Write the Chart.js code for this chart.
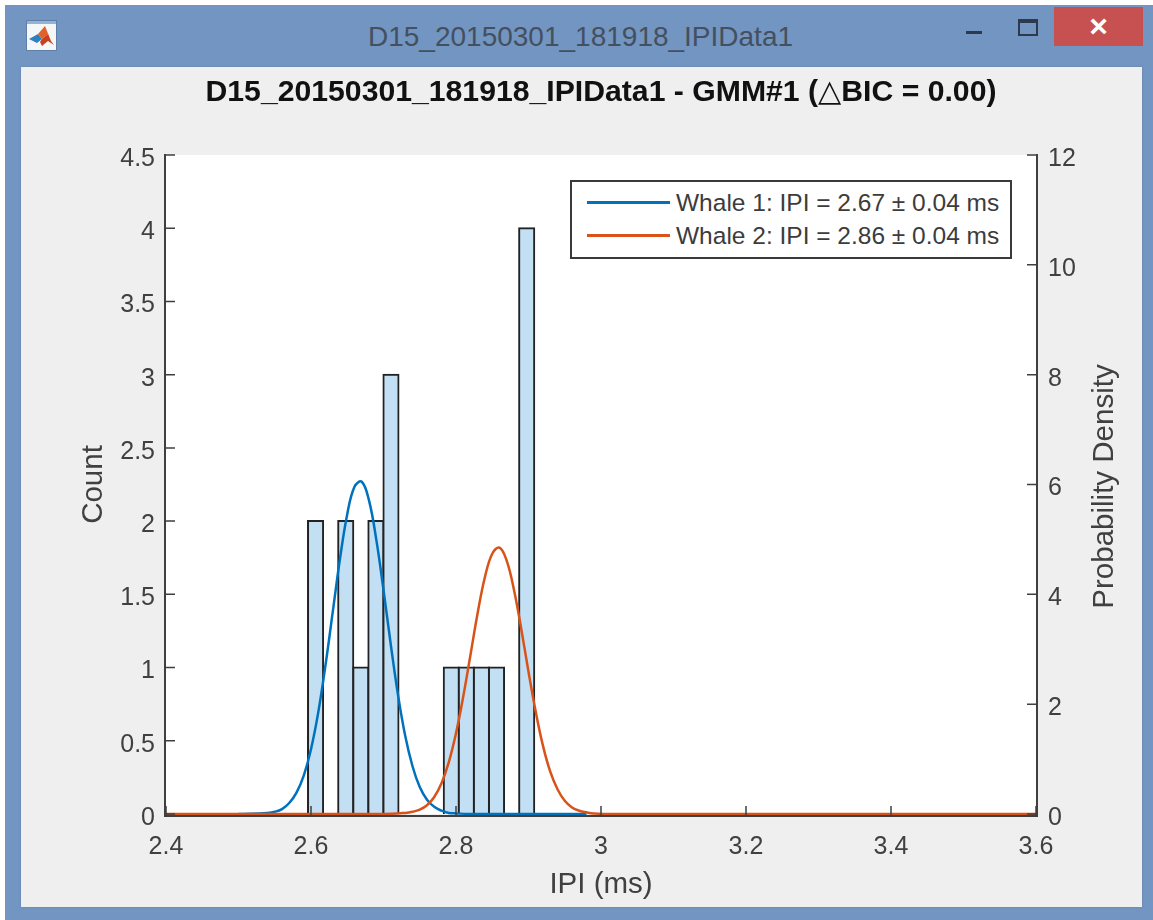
<!DOCTYPE html>
<html>
<head>
<meta charset="utf-8">
<title>D15_20150301_181918_IPIData1</title>
<script src="https://cdn.jsdelivr.net/npm/chart.js@4"></script>
<style>
  html, body { margin: 0; padding: 0; background: #fff; width: 1153px; height: 920px; overflow: hidden; }
  body { position: relative; font-family: "Liberation Sans", "DejaVu Sans", sans-serif; }
  #frame { position: absolute; left: 5px; top: 5px; width: 1148px; height: 915px; background: #7395c1; }
  #panel { position: absolute; left: 21px; top: 67px; width: 1121px; height: 840px; background: #efefef; box-shadow: 0 0 2px #5f7fa8; }
  #winTitle { position: absolute; left: 368px; top: 21px; font-size: 28px; color: #44505f; white-space: nowrap; }
  #closeBtn { position: absolute; left: 1054px; top: 7px; width: 89px; height: 39px; background: #c75050; color: #fff; font-size: 32px; font-weight: bold; line-height: 38px; text-align: center; }
  #minBtn { position: absolute; left: 966px; top: 31px; width: 16px; height: 3px; background: #2c3a4c; }
  #maxBtn { position: absolute; left: 1018px; top: 19px; width: 16px; height: 11px; border: 2px solid #2c3a4c; border-top-width: 4px; }
  #icon { position: absolute; left: 26px; top: 20px; }
  #chartCanvas { position: absolute; left: 0; top: 0; }
  #legendBox { position: absolute; left: 570px; top: 180px; width: 438px; height: 75px; background: #fff; border: 2px solid #3a3a3a; }
  .legendRow { position: absolute; left: 0; height: 33px; width: 100%; font-size: 24.5px; line-height: 33px; color: #3c3c3c; white-space: nowrap; }
  .legendRow i { position: absolute; left: 15px; top: 15px; width: 83px; height: 3px; }
  .legendRow span { position: absolute; left: 104px; }
</style>
</head>
<body>
<div id="frame"></div>
<div id="panel"></div>
<svg id="icon" width="31" height="31" viewBox="0 0 31 31">
  <rect x="0.5" y="0.5" width="30" height="30" fill="#f4f6f8" stroke="#5f7fa8"/>
  <rect x="1" y="1" width="29" height="3" fill="#8fb4d8"/>
  <polygon points="3,19 12,14 16,19 11,23" fill="#2f7fc0"/>
  <polygon points="12,14 19,6 22,14 16,19" fill="#e0622a"/>
  <polygon points="19,6 25,21 28,25 22,21 16,26 14,22 16,19 22,14" fill="#c8401c"/>
</svg>
<div id="winTitle">D15_20150301_181918_IPIData1</div>
<div id="minBtn"></div>
<div id="maxBtn"></div>
<div id="closeBtn">×</div>
<canvas id="chartCanvas" width="1153" height="920"></canvas>
<div id="legendBox"></div>

<script>
const chartTitle = "D15_20150301_181918_IPIData1 - GMM#1 (△BIC = 0.00)";
const xLabel = "IPI (ms)";
const leftLabel = "Count";
const rightLabel = "Probability Density";

const xTicks = [2.4, 2.6, 2.8, 3, 3.2, 3.4, 3.6];
const countTicks = [0, 0.5, 1, 1.5, 2, 2.5, 3, 3.5, 4, 4.5];
const densityTicks = [0, 2, 4, 6, 8, 10, 12];

// histogram bins (centre, count)
const binCenters = [2.6063, 2.6479, 2.6687, 2.6895, 2.7103, 2.7935, 2.8143, 2.8351, 2.8559, 2.8975];
const binCounts = [2, 2, 1, 2, 3, 1, 1, 1, 1, 4];

const whale1Label = "Whale 1: IPI = 2.67 ± 0.04 ms";
const whale1X = [2.5, 2.54, 2.55, 2.56, 2.57, 2.58, 2.59, 2.6, 2.61, 2.62, 2.63, 2.64, 2.65, 2.66, 2.67, 2.68, 2.69, 2.7, 2.71, 2.72, 2.73, 2.74, 2.75, 2.76, 2.77, 2.78, 2.79, 2.8, 2.82, 2.98];
const whale1Y = [0, 0.02, 0.04, 0.09, 0.2, 0.39, 0.7, 1.18, 1.85, 2.71, 3.68, 4.65, 5.46, 5.96, 6.05, 5.71, 5, 4.08, 3.09, 2.17, 1.42, 0.87, 0.49, 0.26, 0.13, 0.06, 0.02, 0.01, 0, 0];

const whale2Label = "Whale 2: IPI = 2.86 ± 0.04 ms";
const whale2X = [2.4, 2.7, 2.73, 2.74, 2.75, 2.76, 2.77, 2.78, 2.79, 2.8, 2.81, 2.82, 2.83, 2.84, 2.85, 2.86, 2.87, 2.88, 2.89, 2.9, 2.91, 2.92, 2.93, 2.94, 2.95, 2.96, 2.97, 2.98, 2.99, 3.02, 3.6];
const whale2Y = [0, 0, 0.02, 0.04, 0.08, 0.16, 0.31, 0.56, 0.94, 1.47, 2.14, 2.9, 3.67, 4.32, 4.74, 4.85, 4.61, 4.08, 3.37, 2.59, 1.86, 1.24, 0.77, 0.45, 0.24, 0.12, 0.06, 0.03, 0.01, 0, 0];

const axisColor = "#3f3f3f";
const textColor = "#404040";
const fontFamily = '"Liberation Sans", "DejaVu Sans", sans-serif';

function toPoints(xs, ys) {
  return xs.map((x, i) => ({ x: x, y: ys[i] }));
}

// matlab style box: white plot area, inward ticks, no top line
const matlabAxes = {
  id: "matlabAxes",
  beforeDatasetsDraw(chart) {
    const a = chart.chartArea;
    const ctx = chart.ctx;
    ctx.save();
    ctx.fillStyle = "#fff";
    ctx.fillRect(a.left, a.top, a.right - a.left, a.bottom - a.top);
    ctx.restore();
  },
  afterDraw(chart) {
    const a = chart.chartArea;
    const ctx = chart.ctx;
    const sx = chart.scales.x, sl = chart.scales.y, sr = chart.scales.y2;
    ctx.save();
    ctx.strokeStyle = axisColor;
    ctx.lineWidth = 2;
    ctx.beginPath();
    ctx.moveTo(a.left - 1, a.top - 1);
    ctx.lineTo(a.left - 1, a.bottom + 2);
    ctx.lineTo(a.right + 1, a.bottom + 2);
    ctx.lineTo(a.right + 1, a.top - 1);
    ctx.stroke();
    ctx.lineWidth = 1.5;
    ctx.beginPath();
    xTicks.forEach(v => {
      const x = sx.getPixelForValue(v);
      ctx.moveTo(x, a.bottom + 1);
      ctx.lineTo(x, a.bottom - 8);
    });
    countTicks.forEach(v => {
      const y = sl.getPixelForValue(v);
      ctx.moveTo(a.left, y);
      ctx.lineTo(a.left + 9, y);
    });
    densityTicks.forEach(v => {
      const y = sr.getPixelForValue(v);
      ctx.moveTo(a.right, y);
      ctx.lineTo(a.right - 9, y);
    });
    ctx.stroke();

    // right axis title reads bottom to top, chart.js would flip it
    ctx.translate(1105, (a.top + a.bottom) / 2 + 2);
    ctx.rotate(-Math.PI / 2);
    ctx.fillStyle = textColor;
    ctx.font = "29.5px " + fontFamily;
    ctx.textAlign = "center";
    ctx.textBaseline = "middle";
    ctx.fillText(rightLabel, 0, 0);
    ctx.restore();
  }
};

const chart = new Chart(document.getElementById("chartCanvas").getContext("2d"), {
  type: "bar",
  plugins: [matlabAxes],
  data: {
    datasets: [
      {
        type: "line",
        label: whale2Label,
        data: toPoints(whale2X, whale2Y),
        yAxisID: "y2",
        borderColor: "#d95319",
        borderWidth: 2.5,
        pointRadius: 0,
        tension: 0.4,
        clip: false,
        order: 1
      },
      {
        type: "line",
        label: whale1Label,
        data: toPoints(whale1X, whale1Y),
        yAxisID: "y2",
        borderColor: "#0072bd",
        borderWidth: 2.5,
        pointRadius: 0,
        tension: 0.4,
        clip: false,
        order: 2
      },
      {
        label: "Count",
        data: toPoints(binCenters, binCounts),
        yAxisID: "y",
        backgroundColor: "#c2dff3",
        borderColor: "#222",
        borderWidth: 2,
        inflateAmount: 1,
        barPercentage: 1,
        categoryPercentage: 1,
        order: 3
      }
    ]
  },
  options: {
    responsive: false,
    animation: false,
    layout: { padding: 0 },
    plugins: {
      legend: { display: false },
      tooltip: { enabled: false },
      title: {
        display: true,
        text: chartTitle,
        fullSize: false,
        color: "#111",
        font: { family: fontFamily, size: 30.2, weight: "bold", lineHeight: 1.2 },
        padding: { top: 75, bottom: 43.76 }
      }
    },
    scales: {
      x: {
        type: "linear",
        min: 2.4,
        max: 3.6,
        offset: false,
        grid: { display: false },
        border: { display: false },
        afterBuildTicks: s => { s.ticks = xTicks.map(v => ({ value: v })); },
        afterFit: s => { s.height = 106; },
        ticks: {
          autoSkip: false,
          maxRotation: 0,
          padding: 10,
          color: textColor,
          font: { family: fontFamily, size: 25 },
          callback: v => String(v)
        },
        title: {
          display: true,
          text: xLabel,
          color: textColor,
          font: { family: fontFamily, size: 29.5, lineHeight: 1.2 },
          padding: { top: 0, bottom: 17 }
        }
      },
      y: {
        position: "left",
        min: 0,
        max: 4.5,
        grid: { display: false },
        border: { display: false },
        afterBuildTicks: s => { s.ticks = countTicks.map(v => ({ value: v })); },
        afterFit: s => { s.width = 166; },
        ticks: {
          autoSkip: false,
          padding: 3,
          labelOffset: 4,
          color: textColor,
          font: { family: fontFamily, size: 25 },
          callback: v => String(v)
        },
        title: {
          display: true,
          text: leftLabel,
          color: textColor,
          font: { family: fontFamily, size: 29.5, lineHeight: 1.2 },
          padding: { top: 76, bottom: 0 }
        }
      },
      y2: {
        position: "right",
        min: 0,
        max: 12,
        grid: { display: false },
        border: { display: false },
        afterBuildTicks: s => { s.ticks = densityTicks.map(v => ({ value: v })); },
        afterFit: s => { s.width = 117; },
        ticks: {
          autoSkip: false,
          padding: 4,
          labelOffset: 4,
          color: textColor,
          font: { family: fontFamily, size: 25 },
          callback: v => String(v)
        }
      }
    }
  }
});

// legend only lists the two fitted curves
const legendBox = document.getElementById("legendBox");
[chart.data.datasets[1], chart.data.datasets[0]].forEach((ds, i) => {
  const row = document.createElement("div");
  row.className = "legendRow";
  row.style.top = (4 + i * 33) + "px";
  const swatch = document.createElement("i");
  swatch.style.background = ds.borderColor;
  const text = document.createElement("span");
  text.textContent = ds.label;
  row.appendChild(swatch);
  row.appendChild(text);
  legendBox.appendChild(row);
});
</script>
</body>
</html>
